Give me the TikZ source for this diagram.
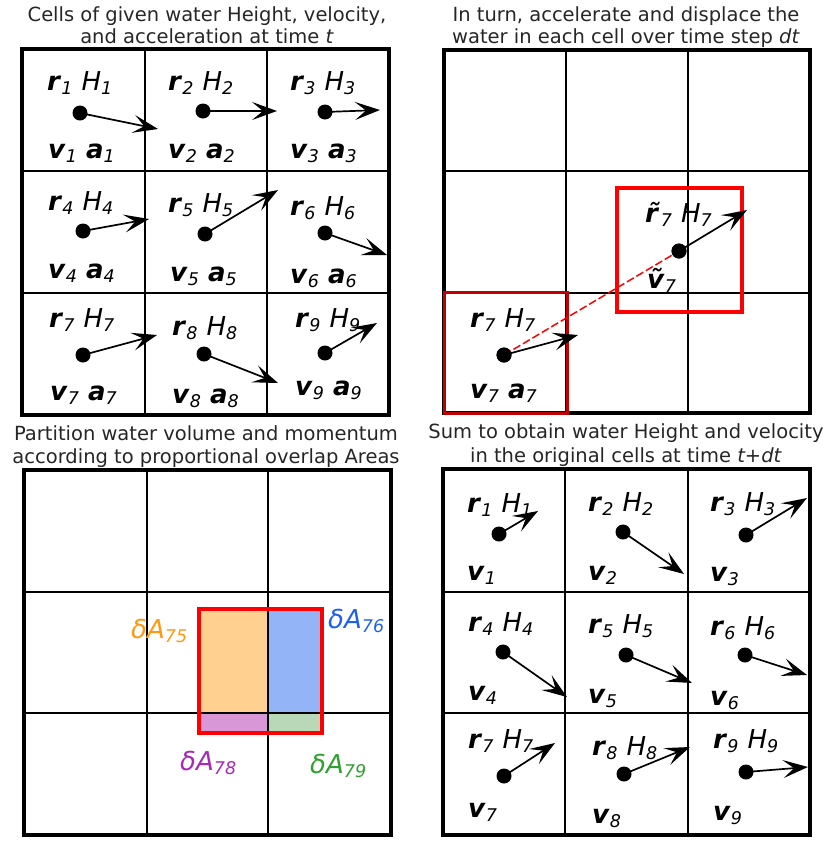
\documentclass[tikz,border=0pt]{standalone}
\usepackage{fontspec}
\setmainfont{DejaVu Sans}
\usetikzlibrary{arrows.meta}
\definecolor{darkred}{HTML}{C00000}
\definecolor{oranget}{HTML}{FF9A10}
\definecolor{bluet}{HTML}{2060F0}
\definecolor{purplet}{HTML}{A828B8}
\definecolor{greent}{HTML}{30A030}
\definecolor{orangef}{HTML}{FFD090}
\definecolor{bluef}{HTML}{94B4F8}
\definecolor{purplef}{HTML}{D898D8}
\definecolor{greenf}{HTML}{B8D8B8}
\newcommand\subx[1]{\raisebox{-4pt}{\fontsize{17.5}{17.5}\selectfont\itshape #1}}
\newcommand\rH[1]{\textbf{\textit{r}}\subx{#1}\hspace{0.35em}\textit{H}\subx{#1}}
\newcommand\va[1]{\textbf{\textit{v}}\subx{#1}\hspace{0.35em}\textbf{\textit{a}}\subx{#1}}
\newcommand\vv[1]{\textbf{\textit{v}}\subx{#1}}
\newcommand\dA[1]{\textit{δA}\subx{#1}}
\tikzset{
  frame/.style={line width=3.5pt},
  gline/.style={line width=2pt},
  lab/.style={anchor=base west, inner sep=0pt, font=\fontsize{26}{26}\selectfont},
  ttl/.style={anchor=base, inner sep=0pt, font=\fontsize{19.5}{22}\selectfont, text=black!85},
  dot/.style={circle, fill=black, inner sep=0pt, minimum size=15pt},
  vec/.style={line width=1.7pt, -{Stealth[length=25pt, width=18pt, inset=11pt]}},
  redbox/.style={draw=red, line width=3.5pt},
}
\begin{document}
\begin{tikzpicture}[x=1pt, y=-1pt]
\useasboundingbox (0,0) rectangle (829,841);

% ---------- titles ----------
\node[ttl] (t1a) at (207,21) {Cells of given water Height, velocity,};
\node[ttl] (t1b) at (207,43) {and acceleration at time \textit{t}};
\node[ttl] (t2a) at (626,21) {In turn, accelerate and displace the};
\node[ttl] (t2b) at (626,43) {water in each cell over time step \textit{dt}};
\node[ttl] (t3a) at (206,440) {Partition water volume and momentum};
\node[ttl] (t3b) at (206,463) {according to proportional overlap Areas};
\node[ttl] (t4a) at (626,438) {Sum to obtain water Height and velocity};
\node[ttl] (t4b) at (626,462) {in the original cells at time \textit{t+dt}};

% ---------- panel 1 (top left) ----------
\draw[gline] (145,49) -- (145,415) (267,49) -- (267,415) (22,171) -- (389,171) (22,293) -- (389,293);
\draw[frame] (22,49) rectangle (389,415);

\node[lab] (l1) at (47,90) {\rH{1}};   \node[lab] (m1) at (48,158) {\va{1}};
\node[lab] (l2) at (168,90) {\rH{2}};  \node[lab] (m2) at (168,158) {\va{2}};
\node[lab] (l3) at (290,90) {\rH{3}};  \node[lab] (m3) at (290,158) {\va{3}};
\node[lab] (l4) at (48,210) {\rH{4}};  \node[lab] (m4) at (48,278) {\va{4}};
\node[lab] (l5) at (168,212) {\rH{5}}; \node[lab] (m5) at (170,281) {\va{5}};
\node[lab] (l6) at (290,215) {\rH{6}}; \node[lab] (m6) at (290,283) {\va{6}};
\node[lab] (l7) at (49,327) {\rH{7}};  \node[lab] (m7) at (50,400) {\va{7}};
\node[lab] (l8) at (172,335) {\rH{8}}; \node[lab] (m8) at (172,403) {\va{8}};
\node[lab] (l9) at (295,327) {\rH{9}}; \node[lab] (m9) at (295,395) {\va{9}};

\node[dot] (p1) at (80,113) {};  \coordinate (q1) at (158,129);
\node[dot] (p2) at (203,111) {}; \coordinate (q2) at (277,111);
\node[dot] (p3) at (325,112) {}; \coordinate (q3) at (380,110);
\node[dot] (p4) at (83,231) {};  \coordinate (q4) at (149,219);
\node[dot] (p5) at (205,234) {}; \coordinate (q5) at (278,190);
\node[dot] (p6) at (325,233) {}; \coordinate (q6) at (387,255);
\node[dot] (p7) at (83,355) {};  \coordinate (q7) at (157,335);
\node[dot] (p8) at (204,354) {}; \coordinate (q8) at (278,383);
\node[dot] (p9) at (325,353) {}; \coordinate (q9) at (377,323);
\foreach \i in {1,...,9} {\draw[vec] (p\i.center) -- (q\i);}

% ---------- panel 2 (top right) ----------
\draw[gline] (566,50) -- (566,413) (688,50) -- (688,413) (444,171) -- (810,171) (444,293) -- (810,293);
\draw[frame] (444,50) rectangle (810,413);
\draw[draw=darkred, line width=3pt] (444,292) rectangle (567,413);
\draw[redbox] (617,188) rectangle (742,312);

\node[lab] (s7) at (470,327) {\rH{7}};
\node[lab] (n7) at (470,398) {\va{7}};
\node[lab] (s7b) at (645,222) {\textbf{\textit{\~{r}}}\subx{7}\hspace{0.35em}\textit{H}\subx{7}};
\node[lab] (n7b) at (647,288) {\textbf{\textit{\~{v}}}\subx{7}};

\node[dot] (u7) at (504,355) {};
\node[dot] (w7) at (679,251) {};
\coordinate (uq) at (578,335);
\coordinate (wq) at (747,210);
\draw[red, line width=1.5pt, dash pattern=on 8pt off 3pt] (u7.center) -- (w7.center);
\draw[vec] (u7.center) -- (uq);
\draw[vec] (w7.center) -- (wq);
\node[dot] at (u7) {};
\node[dot] at (w7) {};

% ---------- panel 3 (bottom left) ----------
\fill[orangef] (199,609) rectangle (268,713);
\fill[bluef] (268,609) rectangle (322,713);
\fill[purplef] (199,713) rectangle (268,733);
\fill[greenf] (268,713) rectangle (322,733);
\draw[gline] (147,470) -- (147,835) (268,470) -- (268,835) (24,592) -- (391,592) (24,713) -- (391,713);
\draw[frame] (24,470) rectangle (391,835);
\draw[redbox] (199,609) rectangle (322,733);

\node[lab, text=oranget] (a75) at (131,638) {\dA{75}};
\node[lab, text=bluet] (a76) at (328,628) {\dA{76}};
\node[lab, text=purplet] (a78) at (180,770) {\dA{78}};
\node[lab, text=greent] (a79) at (310,773) {\dA{79}};

% ---------- panel 4 (bottom right) ----------
\draw[gline] (565,469) -- (565,835) (688,469) -- (688,835) (443,592) -- (810,592) (443,713) -- (810,713);
\draw[frame] (443,469) rectangle (810,835);

\node[lab] (k1) at (467,512) {\rH{1}};  \node[lab] (j1) at (467,580) {\vv{1}};
\node[lab] (k2) at (588,511) {\rH{2}};  \node[lab] (j2) at (588,580) {\vv{2}};
\node[lab] (k3) at (710,511) {\rH{3}};  \node[lab] (j3) at (710,581) {\vv{3}};
\node[lab] (k4) at (468,631) {\rH{4}};  \node[lab] (j4) at (468,700) {\vv{4}};
\node[lab] (k5) at (588,633) {\rH{5}};  \node[lab] (j5) at (588,703) {\vv{5}};
\node[lab] (k6) at (710,635) {\rH{6}};  \node[lab] (j6) at (710,705) {\vv{6}};
\node[lab] (k7) at (468,748) {\rH{7}};  \node[lab] (j7) at (468,817) {\vv{7}};
\node[lab] (k8) at (592,755) {\rH{8}};  \node[lab] (j8) at (592,823) {\vv{8}};
\node[lab] (k9) at (713,748) {\rH{9}};  \node[lab] (j9) at (713,820) {\vv{9}};

\node[dot] (g1) at (499,534) {}; \coordinate (h1) at (538,511);
\node[dot] (g2) at (623,532) {}; \coordinate (h2) at (684,574);
\node[dot] (g3) at (746,535) {}; \coordinate (h3) at (807,498);
\node[dot] (g4) at (503,652) {}; \coordinate (h4) at (567,697);
\node[dot] (g5) at (626,655) {}; \coordinate (h5) at (692,683);
\node[dot] (g6) at (745,655) {}; \coordinate (h6) at (807,675);
\node[dot] (g7) at (504,776) {}; \coordinate (h7) at (555,743);
\node[dot] (g8) at (624,774) {}; \coordinate (h8) at (690,747);
\node[dot] (g9) at (746,772) {}; \coordinate (h9) at (808,767);
\foreach \i in {1,...,9} {\draw[vec] (g\i.center) -- (h\i);}
\end{tikzpicture}
\end{document}
